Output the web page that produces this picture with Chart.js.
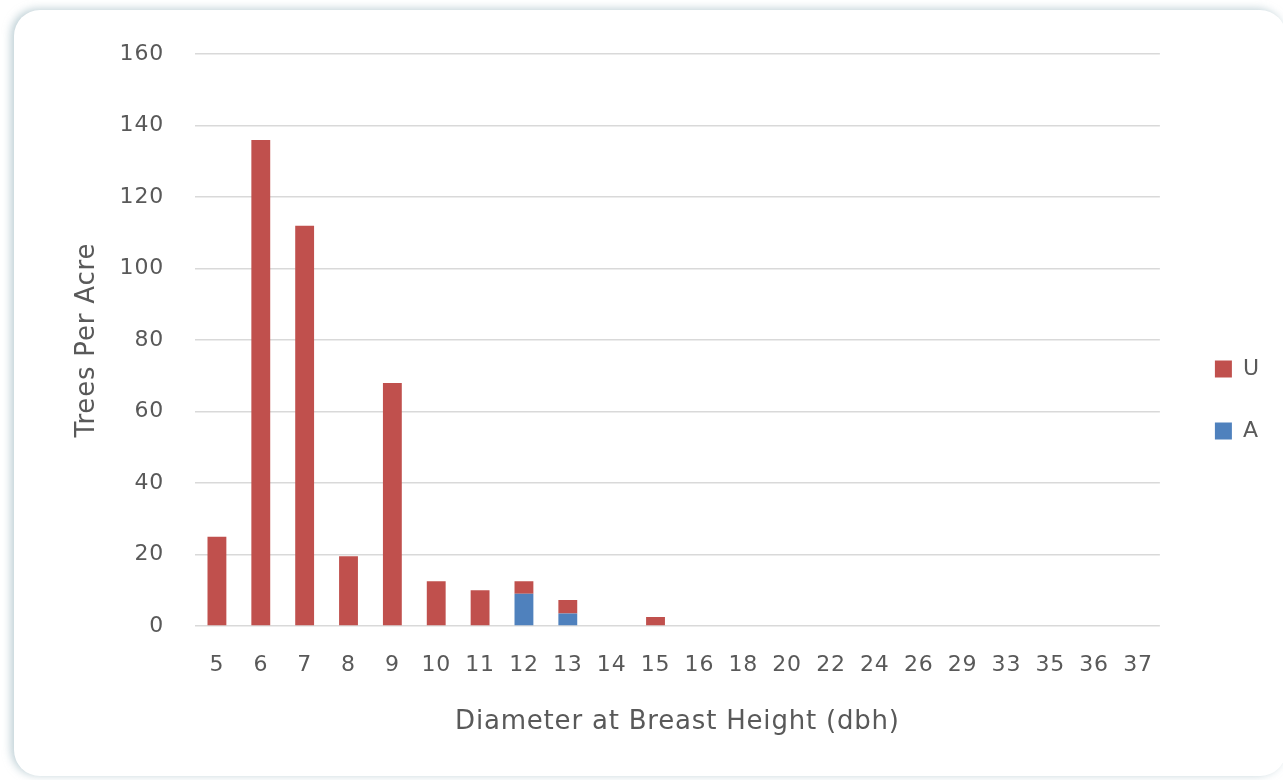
<!DOCTYPE html>
<html>
<head>
<meta charset="utf-8">
<script src="https://cdn.jsdelivr.net/npm/chart.js@4.4.1/dist/chart.umd.min.js"></script>
<style>
  html, body { margin: 0; padding: 0; background: #ffffff; overflow: hidden; }
  body { width: 1283px; height: 780px; position: relative; }
  .card {
    position: absolute; left: 14px; top: 10px; width: 1272px; height: 766px;
    background: #fff; border-radius: 26px;
    box-shadow: -3px -1px 8px rgba(145, 175, 185, 0.6);
  }
  .wrap { position: absolute; left: 14px; top: 10px; width: 1272px; height: 766px; }
</style>
</head>
<body>
<div class="card"></div>
<div class="wrap"><canvas id="dbhChart"></canvas></div>
<script>
  const diameters = ["5", "6", "7", "8", "9", "10", "11", "12", "13", "14", "15",
                     "16", "18", "20", "22", "24", "26", "29", "33", "35", "36", "37"];
  const treesU = [25, 136, 112, 19.5, 68, 12.5, 10, 3.5, 3.8, 0, 2.5,
                  0, 0, 0, 0, 0, 0, 0, 0, 0, 0, 0];
  const treesA = [0, 0, 0, 0, 0, 0, 0, 9, 3.5, 0, 0,
                  0, 0, 0, 0, 0, 0, 0, 0, 0, 0, 0];
  const yTicks = [0, 20, 40, 60, 80, 100, 120, 140, 160];

  const FONT = "'DejaVu Sans', sans-serif";
  const GREY = "#595959";

  // moves the legend a bit to the right/down of where the layout puts it,
  // and spreads the letters a little like the original text
  const tweaks = {
    id: "tweaks",
    afterLayout(chart) {
      const lg = chart.legend;
      lg.left += 15; lg.right += 15;
      lg.top -= 10; lg.bottom -= 10;
    },
    beforeDraw(chart) {
      chart.ctx.letterSpacing = "0.8px";
    },
  };

  new Chart(document.getElementById("dbhChart"), {
    type: "bar",
    data: {
      labels: diameters,
      datasets: [
        { label: "A", data: treesA, backgroundColor: "#4f81bd", barPercentage: 0.43, categoryPercentage: 1 },
        { label: "U", data: treesU, backgroundColor: "#c0504d", barPercentage: 0.43, categoryPercentage: 1 },
      ],
    },
    options: {
      responsive: true,
      maintainAspectRatio: false,
      animation: false,
      layout: { padding: { top: 34, right: 32, bottom: 0, left: 0 } },
      scales: {
        x: {
          stacked: true,
          grid: { display: false },
          border: { display: false },
          ticks: { color: GREY, font: { family: FONT, size: 22 }, padding: 18, maxRotation: 0, autoSkip: false },
          title: {
            display: true, text: "Diameter at Breast Height (dbh)", color: GREY,
            font: { family: FONT, size: 26 }, padding: { top: 38, bottom: 38 },
          },
          afterFit: (s) => { s.height = 150; },
        },
        y: {
          stacked: true,
          min: 0, max: 160,
          afterBuildTicks: (s) => { s.ticks = yTicks.map((v) => ({ value: v })); },
          grid: { color: "#d9d9d9", lineWidth: 1.5, drawTicks: false },
          border: { display: false },
          ticks: { color: GREY, font: { family: FONT, size: 22 }, padding: 31 },
          title: {
            display: true, text: "Trees Per Acre", color: GREY,
            font: { family: FONT, size: 26 }, padding: { top: 58, bottom: 58 },
          },
          afterFit: (s) => { s.width = 181; },
        },
      },
      plugins: {
        legend: {
          position: "right",
          reverse: true,
          labels: {
            color: GREY,
            font: { family: FONT, size: 22 },
            boxWidth: 17, boxHeight: 17,
            padding: 40,
          },
        },
        tooltip: { enabled: false },
      },
    },
    plugins: [tweaks],
  });
</script>
</body>
</html>
